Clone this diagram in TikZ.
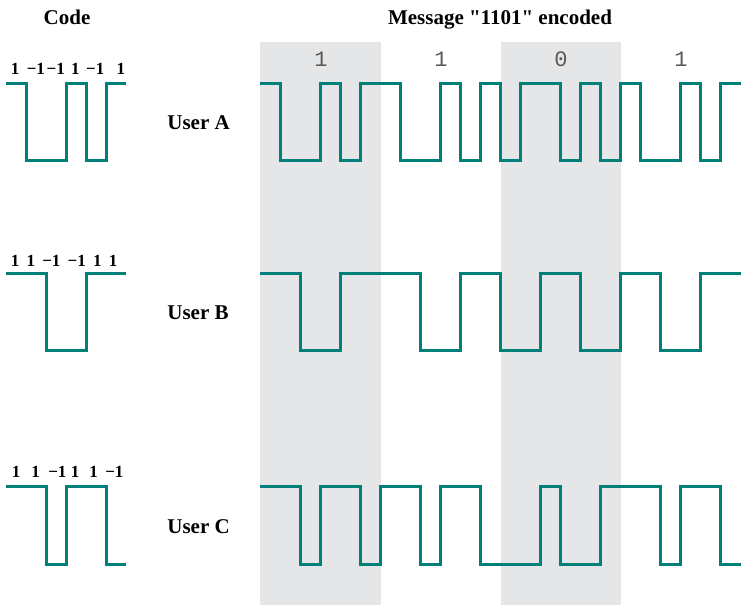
\documentclass[tikz,border=0pt]{standalone}
\usepackage{fontspec}
\setmainfont{Liberation Serif}[Ligatures=TeXOff]
\newfontfamily\bitfont{Liberation Mono}
\usetikzlibrary{positioning}
\definecolor{wavecol}{RGB}{0,128,121}
\definecolor{bandcol}{RGB}{229,230,232}
\tikzstyle{sig}=[draw=wavecol,line width=1.5pt]
\tikzstyle{band}=[fill=bandcol,draw=none]
\tikzstyle{head}=[font=\bfseries\fontsize{10.5}{12}\selectfont,anchor=base]
\tikzstyle{user}=[font=\bfseries\fontsize{10.5}{12}\selectfont,anchor=base west,inner sep=0pt]
\tikzstyle{chips}=[font=\bfseries\fontsize{8.5}{9}\selectfont,anchor=base west,inner sep=0pt]
\tikzstyle{bit}=[font=\bitfont\fontsize{11}{12}\selectfont,text=black!65,anchor=base]

\begin{document}
\begin{tikzpicture}[x=0.5pt,y=-0.5pt]
  \useasboundingbox (0,0) rectangle (741,605);
  % bit periods of the message
  \fill[band] (260,42) rectangle (381,605);
  \fill[band] (501,42) rectangle (621,605);
  \node[head] (code) at (67,25) {Code};
  \node[head] (msg) at (500,25) {Message "1101" encoded};
  \node[bit] (bit1) at (321,67) {1};
  \node[bit] (bit2) at (441,67) {1};
  \node[bit] (bit3) at (561,67) {0};
  \node[bit] (bit4) at (681,67) {1};
  % user A
  \node[chips] (codeA) at (10.5,75)
    {1\hspace{3.7pt}−1\hspace{0.8pt}−1\hspace{3.2pt}1\hspace{3.2pt}−1\hspace{6.2pt}1};
  \draw[sig] (6,83) -| (26,160) -| (66,83) -| (86,160) -| (106,83) -- (126,83);
  \node[user] (userA) at (167,129) {User A};
  \draw[sig] (260,83) foreach \x/\y in {280/160,320/83,340/160,360/83,400/160,440/83,
      460/160,480/83,500/160,520/83,560/160,580/83,600/160,620/83,640/160,680/83,
      700/160,720/83} { -| (\x,\y) } -- (741,83);
  % user B
  \node[chips] (codeB) at (10.5,266)
    {1\hspace{3.6pt}1\hspace{3.6pt}−1\hspace{3.6pt}−1\hspace{3.6pt}1\hspace{3.6pt}1};
  \draw[sig] (6,273) -| (46,350) -| (86,273) -- (126,273);
  \node[user] (userB) at (167,320) {User B};
  \draw[sig] (260,273) foreach \x/\y in {300/350,340/273,420/350,460/273,500/350,
      540/273,580/350,620/273,660/350,700/273} { -| (\x,\y) } -- (741,273);
  % user C
  \node[chips] (codeC) at (11.5,477)
    {1\hspace{5.5pt}1\hspace{4.2pt}−1\hspace{2.2pt}1\hspace{5pt}1\hspace{3.7pt}−1};
  \draw[sig] (6,486) -| (46,564) -| (66,486) -| (106,564) -- (126,564);
  \node[user] (userC) at (167,533) {User C};
  \draw[sig] (260,486) foreach \x/\y in {300/564,320/486,360/564,380/486,420/564,
      440/486,480/564,540/486,560/564,600/486,660/564,680/486,720/564}
      { -| (\x,\y) } -- (741,564);
\end{tikzpicture}
\end{document}
